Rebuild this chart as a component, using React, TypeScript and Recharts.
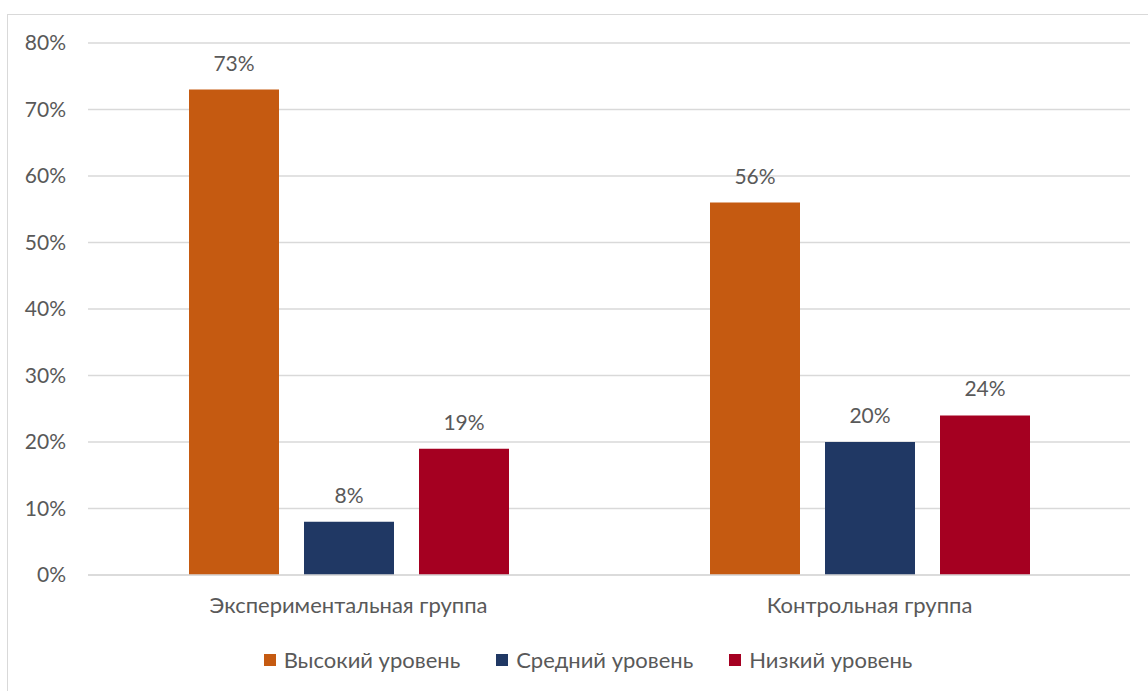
import React from 'react';
import { BarChart, Bar, XAxis, YAxis, CartesianGrid, LabelList, Legend } from 'recharts';

const categories = ['Экспериментальная группа', 'Контрольная группа'];
const highLevel = [73, 56];
const midLevel = [8, 20];
const lowLevel = [19, 24];
const yTicks = [0, 10, 20, 30, 40, 50, 60, 70, 80];

const seriesNames = ['Высокий уровень', 'Средний уровень', 'Низкий уровень'];
const colors = ['#C55A11', '#203864', '#A50021'];

const data = categories.map((c, i) => ({
  name: c,
  high: highLevel[i],
  mid: midLevel[i],
  low: lowLevel[i],
}));

const FONT = 'Lato, "Open Sans", sans-serif';
const TEXT = '#595959';
const FS_NUM = 21;
const FS_TXT = 22;

const LegendContent = () => (
  <div style={{ display: 'flex', justifyContent: 'center', gap: 36, fontFamily: FONT, fontSize: FS_TXT, color: TEXT, lineHeight: '24px', paddingLeft: 46 }}>
    {seriesNames.map((n, i) => (
      <div key={n} style={{ display: 'flex', alignItems: 'center' }}>
        <span style={{ display: 'inline-block', width: 12, height: 12, background: colors[i], marginRight: 8 }} />
        <span>{n}</span>
      </div>
    ))}
  </div>
);

export default function App() {
  const keys = ['high', 'mid', 'low'];
  return (
    <div style={{ position: 'absolute', left: 0, top: 0, width: 1148, height: 691, overflow: 'hidden', background: '#fff' }}>
      <div style={{ position: 'absolute', left: 7, top: 14, width: 1300, height: 800, border: '1px solid #d9d9d9' }} />
      <div style={{ position: 'absolute', left: 0, top: 0 }}>
        <BarChart
          width={1148}
          height={691}
          data={data}
          margin={{ top: 43, right: 18, left: 0, bottom: 52 }}
          barGap={25}
          barCategoryGap={100}
        >
          <CartesianGrid vertical={false} stroke="#d9d9d9" strokeWidth={1.5} />
          <XAxis
            dataKey="name"
            height={40}
            axisLine={{ stroke: '#d9d9d9', strokeWidth: 1.5 }}
            tickLine={false}
            tickSize={0}
            tickMargin={22}
            tick={{ fill: TEXT, fontSize: FS_TXT, fontFamily: FONT }}
          />
          <YAxis
            width={88}
            domain={[0, 80]}
            ticks={yTicks}
            axisLine={false}
            tickLine={false}
            tickSize={0}
            tickMargin={22}
            tickFormatter={(v: number) => `${v}%`}
            tick={{ fill: TEXT, fontSize: FS_NUM, fontFamily: FONT }}
          />
          <Legend
            verticalAlign="bottom"
            content={<LegendContent />}
            wrapperStyle={{ bottom: 19 }}
          />
          {keys.map((k, i) => (
            <Bar key={k} dataKey={k} name={seriesNames[i]} fill={colors[i]} barSize={90} isAnimationActive={false}>
              <LabelList
                dataKey={k}
                position="top"
                offset={19}
                formatter={(v: number) => `${v}%`}
                style={{ fill: TEXT, fontSize: FS_NUM, fontFamily: FONT }}
              />
            </Bar>
          ))}
        </BarChart>
      </div>
    </div>
  );
}
